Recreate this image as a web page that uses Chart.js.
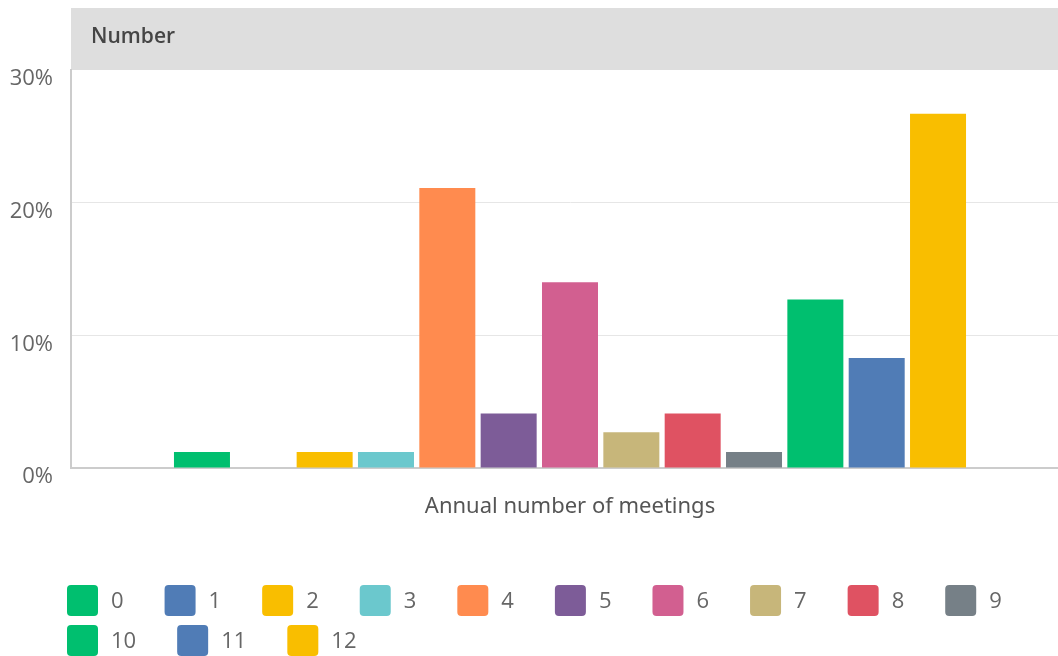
<!DOCTYPE html>
<html>
<head>
<meta charset="utf-8">
<script src="https://cdn.jsdelivr.net/npm/chart.js@4.4.1/dist/chart.umd.min.js"></script>
<style>
  html, body { margin: 0; padding: 0; background: #fff; overflow: hidden; }
  #wrap { width: 1069px; height: 656px; position: relative; }
</style>
</head>
<body>
<div id="wrap"><canvas id="grafico"></canvas></div>
<script>
// dados
var categorias = ['Annual number of meetings'];
var respostas = ['0', '1', '2', '3', '4', '5', '6', '7', '8', '9', '10', '11', '12'];
var percentuais = [1.2, 0, 1.2, 1.2, 21.1, 4.1, 14.0, 2.7, 4.1, 1.2, 12.7, 8.3, 26.7];
var cores = ['#00bf6f', '#507cb6', '#f9be00', '#6bc8cd', '#ff8b4f', '#7d5c98', '#d25f90',
             '#c7b67a', '#df5262', '#768087', '#00bf6f', '#507cb6', '#f9be00'];
var ticksY = [0, 10, 20, 30];
var tituloFaixa = 'Number';

var datasets = respostas.map(function(r, i) {
    return {
        label: r,
        data: [percentuais[i]],
        backgroundColor: cores[i],
        borderWidth: 0,
        categoryPercentage: 0.799,
        barPercentage: 0.913
    };
});

// faixa cinza com "Number" em cima da area do grafico
var faixaPlugin = {
    id: 'faixa',
    beforeDraw: function(chart) {
        var ctx = chart.ctx, area = chart.chartArea;
        ctx.save();
        ctx.fillStyle = '#dedede';
        ctx.fillRect(area.left, 8, chart.width - area.left, area.top - 8);
        ctx.fillStyle = '#454545';
        ctx.font = '600 21px "Open Sans", sans-serif';
        ctx.textBaseline = 'middle';
        ctx.fillText(tituloFaixa, area.left + 20, 37);
        ctx.restore();
    }
};

// legenda desenhada a mao (espacamento igual ao original)
var legendaPlugin = {
    id: 'legenda',
    afterDraw: function(chart) {
        var ctx = chart.ctx;
        var x = 67, y = 585, box = 31;
        ctx.save();
        ctx.font = '22px "Open Sans", sans-serif';
        ctx.textBaseline = 'middle';
        chart.data.datasets.forEach(function(ds) {
            var w = box + 13 + ctx.measureText(ds.label).width;
            if (x + w > 1045) {
                x = 67;
                y += 40;
            }
            ctx.fillStyle = ds.backgroundColor;
            ctx.beginPath();
            ctx.roundRect(x, y, box, box, 4);
            ctx.fill();
            ctx.fillStyle = '#666';
            ctx.fillText(ds.label, x + box + 13, y + box / 2 + 1);
            x += w + 41;
        });
        ctx.restore();
    }
};

var ctx = document.getElementById('grafico').getContext('2d');
var myChart = new Chart(ctx, {
    type: 'bar',
    data: { labels: categorias, datasets: datasets },
    options: {
        responsive: true,
        maintainAspectRatio: false,
        animation: false,
        layout: { padding: { top: 70, bottom: 120, left: 0, right: 0 } },
        plugins: {
            legend: { display: false },
            tooltip: { enabled: false }
        },
        scales: {
            x: {
                grid: { display: false, drawTicks: false },
                border: { color: '#cccccc', width: 2 },
                ticks: {
                    color: '#555',
                    padding: 26,
                    font: { family: '"Noto Sans", sans-serif', size: 22 }
                },
                afterFit: function(scale) { scale.height = 68; }
            },
            y: {
                min: 0,
                max: 30,
                afterBuildTicks: function(scale) {
                    scale.ticks = ticksY.map(function(v) { return { value: v }; });
                },
                grid: {
                    drawTicks: false,
                    color: function(c) {
                        return (c.tick && (c.tick.value === 0 || c.tick.value === 30)) ? 'rgba(0,0,0,0)' : '#e6e6e6';
                    }
                },
                border: { color: '#cccccc', width: 2 },
                ticks: {
                    color: '#666',
                    padding: 18,
                    labelOffset: 9,
                    font: { family: '"Open Sans", sans-serif', size: 22 },
                    callback: function(v) { return v + '%'; }
                },
                afterFit: function(scale) { scale.width = 71; }
            }
        }
    },
    plugins: [faixaPlugin, legendaPlugin]
});
</script>
</body>
</html>
